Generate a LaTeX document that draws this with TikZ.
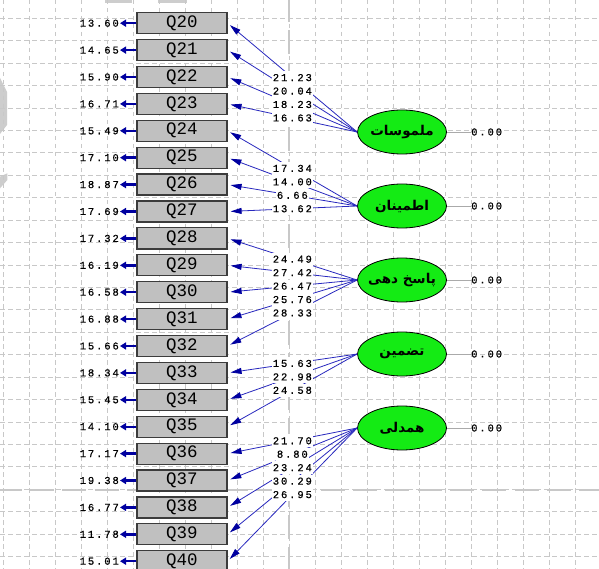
\documentclass[tikz,border=0pt]{standalone}
\usepackage{fontspec}
\usetikzlibrary{shapes.geometric,arrows.meta}
\TeXXeTstate=1
\newfontfamily\lisfont[LetterSpace=18,FakeBold=0.6]{Liberation Mono}
\newfontfamily\qfont{Liberation Mono}
\newfontfamily\fafont[Script=Arabic]{DejaVu Sans}
\newcommand{\latxt}[1]{\makebox[0pt][c]{\beginR #1\endR}}
\definecolor{boxfill}{RGB}{192,192,192}
\definecolor{boxdraw}{RGB}{60,60,60}
\definecolor{latgreen}{RGB}{20,235,20}
\definecolor{loadblue}{RGB}{40,40,190}
\definecolor{headblue}{RGB}{0,0,160}
\definecolor{zerogray}{RGB}{170,170,170}
\definecolor{gridgray}{RGB}{200,200,200}
\definecolor{majorgray}{RGB}{200,200,200}
\definecolor{wmgray}{RGB}{205,205,205}
\tikzset{
  qbox/.style={rectangle, draw=boxdraw, fill=boxfill, line width=1.2pt, minimum width=90pt, minimum height=21pt, inner sep=0pt, font=\qfont\fontsize{17.5}{17.5}\selectfont},
  latent/.style={ellipse, draw=black, fill=latgreen, line width=0.8pt, minimum width=89pt, minimum height=44pt, inner sep=0pt, font=\fafont\bfseries\fontsize{13.5}{13.5}\selectfont},
  errlbl/.style={inner sep=0pt, font=\lisfont\fontsize{10.5}{10.5}\selectfont},
  loadlbl/.style={fill=white, inner xsep=1pt, inner ysep=3pt, font=\lisfont\fontsize{10.5}{10.5}\selectfont},
  errarr/.style={draw=headblue, line width=2.4pt, shorten >=1pt, -{Triangle[length=6pt,width=7pt]}},
  loadline/.style={draw=loadblue, line width=0.8pt, shorten >=3pt, -{Triangle[length=11pt,width=6pt,color=headblue]}},
  zeroline/.style={draw=zerogray, line width=0.8pt},
  minorgrid/.style={draw=gridgray, line width=0.9pt, dash pattern=on 4.5pt off 3.5pt},
  majorgrid/.style={draw=majorgray, line width=1.3pt, dash pattern=on 24pt off 8.3pt},
}
\begin{document}
\begin{tikzpicture}[x=1pt,y=-1pt]
\useasboundingbox (0,0) rectangle (599,569);
\fill[white] (0,0) rectangle (599,569);
% watermark remnants
\fill[wmgray] (0,78) -- (7,92) -- (7,125) -- (0,134) -- cycle;
\fill[wmgray] (0,176.7) -- (7.3,173.3) -- (7.3,180) -- (0,188.3) -- cycle;
\fill[wmgray] (105,0) rectangle (132,3);
\fill[wmgray] (158,0) rectangle (187,3);
% grid
\foreach \k in {-1,...,22} \draw[minorgrid] ({29+26*\k},0) -- ({29+26*\k},569);
\foreach \k in {-1,...,24} \draw[minorgrid] (0,{18.3+22.43*\k}) -- (599,{18.3+22.43*\k});
\draw[majorgrid] (289,-2) -- (289,569);
\draw[majorgrid] (-2.2,490) -- (599,490);
% observed variables
\foreach \i in {20,...,40} \node[qbox] (q\i) at (182,{23.2+26.9*(\i-20)}) {Q\i};
% error variances
\foreach \i/\v in {20/13.60,21/14.65,22/15.90,23/16.71,24/15.49,25/17.10,26/18.87,27/17.69,28/17.32,29/16.19,30/16.58,31/16.88,32/15.66,33/18.34,34/15.45,35/14.10,36/17.17,37/19.38,38/16.77,39/11.78,40/15.01}{
  \node[errlbl, anchor=east] (r\i) at (119,{23.2+26.9*(\i-20)}) {\v};
  \draw[errarr] (q\i.west) -- (r\i.east);
}
% latent variables
\node[latent] (e1) at (402,132) {\latxt{ملموسات}};
\node[latent] (e2) at (402,206) {\latxt{اطمینان}};
\node[latent] (e3) at (402,280) {\latxt{پاسخ دهی}};
\node[latent] (e4) at (402,354) {\latxt{تضمین}};
\node[latent] (e5) at (402,428) {\latxt{همدلی}};
\foreach \e in {1,...,5}{
  \node[errlbl, anchor=west] (z\e) at (471,{132+74*(\e-1)}) {0.00};
  \draw[zeroline] (e\e.east) -- (z\e.west);
}
% loadings: lines first
\foreach \e/\i in {1/20,1/21,1/22,1/23,2/24,2/25,2/26,2/27,3/28,3/29,3/30,3/31,3/32,4/33,4/34,4/35,5/36,5/37,5/38,5/39,5/40}
  \draw[loadline] (e\e.west) -- (q\i.east);
% loading labels on top
\foreach \e/\i/\v in {1/20/21.23,1/21/20.04,1/22/18.23,1/23/16.63,2/24/17.34,2/25/14.00,2/26/6.66,2/27/13.62,3/28/24.49,3/29/27.42,3/30/26.47,3/31/25.76,3/32/28.33,4/33/15.63,4/34/22.98,4/35/24.58,5/36/21.70,5/37/8.80,5/38/23.24,5/39/30.29,5/40/26.95}
  \path (e\e.west) -- (q\i.east) node[midway, loadlbl] (l\i) {\v};
\end{tikzpicture}
\end{document}
